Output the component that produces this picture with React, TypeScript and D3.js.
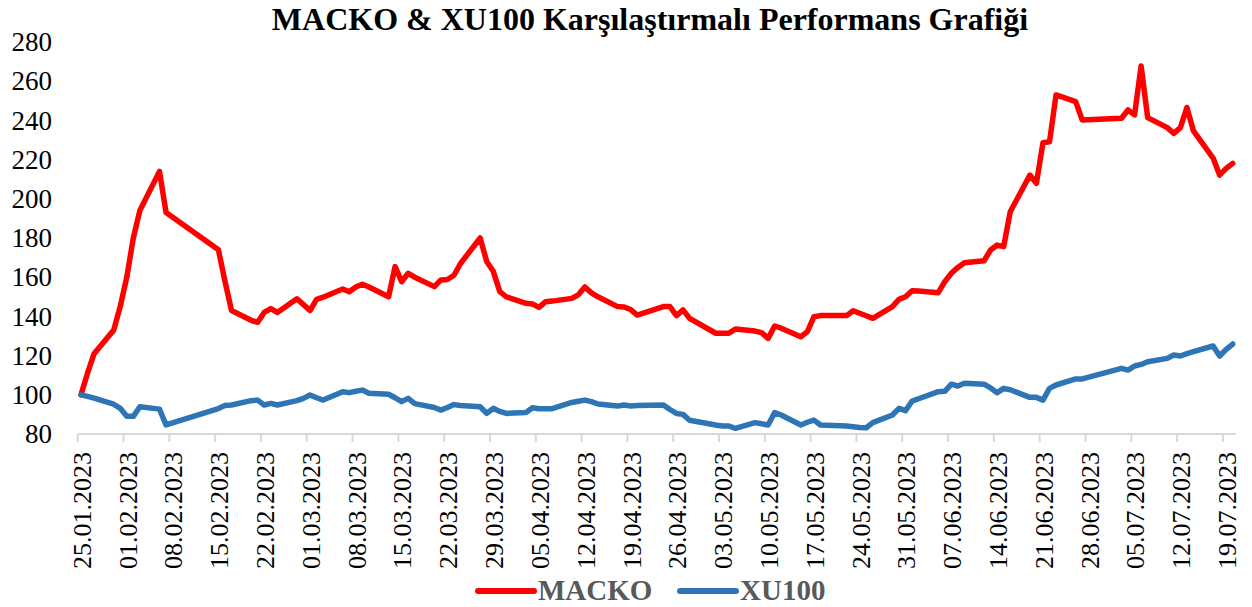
import * as d3 from 'd3';

// trading days (dd.mm.yyyy)
const dates = [
  '25.01.2023', '26.01.2023', '27.01.2023', '30.01.2023', '31.01.2023', '01.02.2023', '02.02.2023', '03.02.2023',
  '06.02.2023', '07.02.2023', '15.02.2023', '16.02.2023', '17.02.2023', '20.02.2023', '21.02.2023', '22.02.2023',
  '23.02.2023', '24.02.2023', '27.02.2023', '28.02.2023', '01.03.2023', '02.03.2023', '03.03.2023', '06.03.2023',
  '07.03.2023', '08.03.2023', '09.03.2023', '10.03.2023', '13.03.2023', '14.03.2023', '15.03.2023', '16.03.2023',
  '17.03.2023', '20.03.2023', '21.03.2023', '22.03.2023', '23.03.2023', '24.03.2023', '27.03.2023', '28.03.2023',
  '29.03.2023', '30.03.2023', '31.03.2023', '03.04.2023', '04.04.2023', '05.04.2023', '06.04.2023', '07.04.2023',
  '10.04.2023', '11.04.2023', '12.04.2023', '13.04.2023', '14.04.2023', '17.04.2023', '18.04.2023', '19.04.2023',
  '20.04.2023', '24.04.2023', '25.04.2023', '26.04.2023', '27.04.2023', '28.04.2023', '02.05.2023', '03.05.2023',
  '04.05.2023', '05.05.2023', '08.05.2023', '09.05.2023', '10.05.2023', '11.05.2023', '12.05.2023', '15.05.2023',
  '16.05.2023', '17.05.2023', '18.05.2023', '22.05.2023', '23.05.2023', '24.05.2023', '25.05.2023', '26.05.2023',
  '29.05.2023', '30.05.2023', '31.05.2023', '01.06.2023', '02.06.2023', '05.06.2023', '06.06.2023', '07.06.2023',
  '08.06.2023', '09.06.2023', '12.06.2023', '13.06.2023', '14.06.2023', '15.06.2023', '16.06.2023', '19.06.2023',
  '20.06.2023', '21.06.2023', '22.06.2023', '23.06.2023', '26.06.2023', '27.06.2023', '03.07.2023', '04.07.2023',
  '05.07.2023', '06.07.2023', '07.07.2023', '10.07.2023', '11.07.2023', '12.07.2023', '13.07.2023', '14.07.2023',
  '17.07.2023', '18.07.2023', '19.07.2023', '20.07.2023',
];

const macko = [
  100, 111, 121, 133, 145, 160, 180, 194,
  214, 193, 174, 158, 143, 138, 137, 142,
  144, 142, 149, 146, 143, 148.7, 149.8, 154,
  152.6, 155, 156.4, 155, 150, 165.4, 157.7, 162,
  160, 155.2, 158.6, 158.8, 161, 167, 180, 168,
  163, 152.6, 150, 146.7, 146.3, 144.6, 147.5, 147.8,
  149.2, 151, 155, 152, 150, 145, 144.8, 143.5,
  140.7, 145, 145, 140.4, 143.3, 139, 131.4, 131.4,
  131.4, 133.6, 132.5, 131.7, 128.8, 135.1, 134, 129.6,
  132.2, 139.8, 140.4, 140.4, 142.9, 141.6, 140.3, 139,
  145, 148.7, 150, 153.1, 152.9, 152.1, 157.7, 162,
  165, 167.4, 168.4, 173.9, 176.4, 175.6, 193.4, 212.1,
  207.9, 228.6, 229.1, 253, 249.6, 240.2, 241.1, 245.3,
  242.8, 267.8, 241.4, 236.3, 233.4, 236.3, 246.6, 234.6,
  220.8, 212.1, 215.5, 218.1,
];

const xu100 = [
  100, 99.2, 98.3, 95.2, 93.1, 89, 89, 93.9,
  92.7, 84.6, 93, 94.5, 94.8, 97, 97.3, 94.8,
  95.6, 94.8, 97, 98.2, 99.9, 98.5, 97.3, 101.6,
  101.1, 101.8, 102.4, 100.8, 100.3, 98.5, 96.5, 98.2,
  95.5, 93.5, 92.2, 93.5, 95, 94.5, 93.9, 90.5,
  93.1, 91.5, 90.5, 91, 93.4, 92.9, 92.9, 92.9,
  96.1, 96.7, 97.3, 96.5, 95.3, 94.3, 94.8, 94.3,
  94.5, 94.8, 92.5, 90.5, 90, 87, 84.6, 84.1,
  84.1, 82.9, 85.8, 85.2, 84.6, 90.9, 89.7, 84.6,
  86, 87.1, 84.6, 84.1, 83.7, 83.3, 83.2, 85.8,
  89.7, 93.1, 91.9, 96.8, 98, 101.6, 101.8, 105.4,
  104.5, 105.9, 105.4, 103.5, 101.1, 103.3, 102.6, 98.7,
  98.7, 97.3, 103.3, 105, 108.1, 108.1, 113.5, 112.6,
  114.7, 115.5, 116.9, 118.6, 120.3, 119.8, 121, 122,
  124.9, 119.8, 123.2, 125.9,
];

const tickLabels = [
  '25.01.2023', '01.02.2023', '08.02.2023', '15.02.2023', '22.02.2023', '01.03.2023', '08.03.2023',
  '15.03.2023', '22.03.2023', '29.03.2023', '05.04.2023', '12.04.2023', '19.04.2023', '26.04.2023',
  '03.05.2023', '10.05.2023', '17.05.2023', '24.05.2023', '31.05.2023', '07.06.2023', '14.06.2023',
  '21.06.2023', '28.06.2023', '05.07.2023', '12.07.2023', '19.07.2023',
];

const yTicks = [80, 100, 120, 140, 160, 180, 200, 220, 240, 260, 280];

const seriesNames = ['MACKO', 'XU100'];
const seriesColors = ['#FF0000', '#2E75B6'];

const W = 1252;
const H = 607;
const serif = '"Liberation Serif", "Times New Roman", serif';

const parse = d3.utcParse('%d.%m.%Y');

export default function App() {
  const start = parse('25.01.2023')!;
  const end = parse('21.07.2023')!;

  // date axis, each day drawn in the middle of its slot
  const x = d3.scaleUtc().domain([start, end]).range([77.7, 1236]);
  const y = d3.scaleLinear().domain([80, 280]).range([434, 42]);
  const halfDay = 12 * 3600 * 1000;

  const pts = dates.map((d) => +parse(d)! + halfDay);
  const line = d3
    .line<number>()
    .x((_, i) => x(pts[i]))
    .y((v) => y(v));

  const series = [macko, xu100];

  return (
    <svg
      width={W}
      height={H}
      viewBox={`0 0 ${W} ${H}`}
      style={{ position: 'absolute', left: 0, top: 0, background: '#fff' }}
    >
      <text
        x={650}
        y={30}
        textAnchor="middle"
        fontFamily={serif}
        fontWeight="bold"
        fontSize={32}
        fill="#000"
      >
        MACKO &amp; XU100 Karşılaştırmalı Performans Grafiği
      </text>

      {/* y axis labels */}
      {yTicks.map((t) => (
        <text
          key={t}
          x={52}
          y={y(t)}
          dy="0.34em"
          textAnchor="end"
          fontFamily={serif}
          fontSize={27}
          fill="#000"
        >
          {t}
        </text>
      ))}

      {/* x axis */}
      <line x1={x(start)} x2={x(end)} y1={y(80)} y2={y(80)} stroke="#D9D9D9" strokeWidth={2} />
      {tickLabels.map((t) => {
        const tx = x(parse(t)!);
        return (
          <g key={t}>
            <line x1={tx} x2={tx} y1={y(80)} y2={y(80) + 8} stroke="#D9D9D9" strokeWidth={2} />
            <text
              transform={`translate(${tx + 4},452) rotate(-90)`}
              dy="0.35em"
              textAnchor="end"
              fontFamily={serif}
              fontSize={26}
              fill="#000"
            >
              {t}
            </text>
          </g>
        );
      })}

      {/* series */}
      {series.map((s, i) => (
        <path
          key={seriesNames[i]}
          d={line(s) || ''}
          fill="none"
          stroke={seriesColors[i]}
          strokeWidth={5.5}
          strokeLinejoin="round"
          strokeLinecap="round"
        />
      ))}

      {/* legend */}
      {seriesNames.map((n, i) => {
        const lx = i === 0 ? 478 : 680;
        return (
          <g key={n}>
            <line x1={lx} x2={lx + 56} y1={591} y2={591} stroke={seriesColors[i]} strokeWidth={6} strokeLinecap="round" />
            <text x={lx + 60} y={600} fontFamily={serif} fontWeight="bold" fontSize={29} fill="#595959">
              {n}
            </text>
          </g>
        );
      })}
    </svg>
  );
}
